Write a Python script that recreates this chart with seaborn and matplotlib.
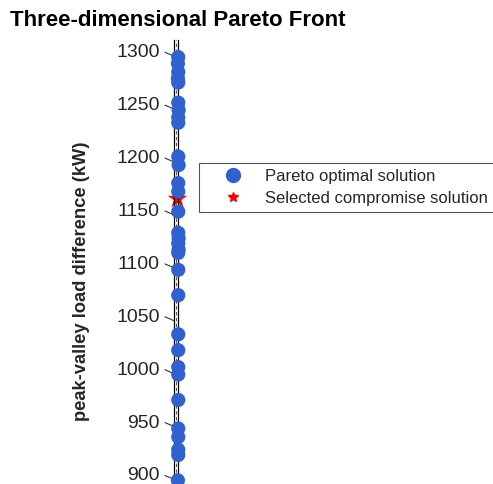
import matplotlib
matplotlib.use("Agg")
import matplotlib.pyplot as plt
import seaborn as sns
import pandas as pd
from matplotlib.lines import Line2D

# ---- data ----
peak_valley = [1294, 1288, 1280, 1274, 1270, 1251, 1244, 1237, 1232, 1200, 1192,
               1175, 1167, 1148, 1128, 1123, 1118, 1112, 1109, 1093, 1069, 1032,
               1017, 1001, 994, 970, 943, 935, 923, 918, 894]
depth_offset = [1.1, 1.0, 1.1, 1.0, 1.1, 1.1, 1.2, 1.1, 1.1, 1.1, 1.2,
                1.1, 1.1, 1.1, 1.1, 1.2, 1.1, 1.2, 1.1, 1.1, 1.1, 1.1,
                1.1, 1.1, 1.1, 1.1, 1.1, 1.1, 1.1, 1.1, 1.0]
selected_value = [1160]
selected_offset = [0.9]
yticks = [900, 950, 1000, 1050, 1100, 1150, 1200, 1250, 1300]

df = pd.DataFrame({"x": depth_offset, "y": peak_valley})
sel = pd.DataFrame({"x": selected_offset, "y": selected_value})

sns.set_style("white")
plt.rcParams["font.family"] = ["Liberation Sans", "DejaVu Sans"]

W, H = 493, 484
fig = plt.figure(figsize=(W / 100, H / 100), dpi=100)

# narrow column (edge-on 3D box)
x0, x1 = 174.3, 177.9
ytop_px, ybot_px = 40, 484
ax = fig.add_axes([x0 / W, 1 - ybot_px / H, (x1 - x0) / W, (ybot_px - ytop_px) / H])
ppu = (474 - 50.8) / 400.0
ax.set_ylim(900 - (ybot_px - 474) / ppu, 1300 + (50.8 - ytop_px) / ppu)
ax.set_xlim(0, 1)

for s in ["top", "bottom"]:
    ax.spines[s].set_visible(False)
for s in ["left", "right"]:
    ax.spines[s].set_color("black")
    ax.spines[s].set_linewidth(0.9)
ax.axvline(0.5, color="#333333", lw=0.6, ls=(0, (4, 3)))

ax.set_xticks([])
ax.set_yticks(yticks)
ax.set_yticklabels([str(t) for t in yticks], fontsize=14, color="#262626")
ax.tick_params(axis="y", length=0, pad=10.5)

# diagonal tick marks
tr = ax.get_yaxis_transform()
wpx = x1 - x0
for t in yticks:
    ax.plot([(165 - x0) / wpx, 0], [t - 1.5 / ppu, t - 5.5 / ppu], color="#333333",
            lw=0.8, transform=tr, clip_on=False)

sns.scatterplot(data=df, x="x", y="y", ax=ax, color="#2F62CF", s=105,
                edgecolor="none", clip_on=False, zorder=3)
sns.scatterplot(data=sel, x="x", y="y", ax=ax, color="red", marker="*", s=220,
                edgecolor="none", clip_on=False, zorder=2)
ax.set_xlabel("")
ax.set_ylabel("")

fig.text(82 / W, 1 - 281 / H, "peak-valley load difference (kW)", rotation=90,
         ha="center", va="center", fontsize=13.2, fontweight="bold", color="#262626")
fig.text(10 / W, 1 - 20 / H, "Three-dimensional Pareto Front", ha="left",
         va="center", fontsize=16, fontweight="bold", color="black")

handles = [
    Line2D([], [], ls="none", marker="o", color="#2F62CF", markersize=10),
    Line2D([], [], ls="none", marker="*", color="red", markersize=7),
]
leg = fig.legend(handles, ["Pareto optimal solution", "Selected compromise solution"],
                 loc="upper left", bbox_to_anchor=(199 / W, 1 - 163 / H),
                 frameon=True, fancybox=False, fontsize=12, borderpad=0.36,
                 handletextpad=0.28, labelspacing=0.42, borderaxespad=0,
                 handlelength=3.3)
leg.get_frame().set_edgecolor("#262626")
leg.get_frame().set_linewidth(0.8)

fig.savefig("out.png", dpi=100)
